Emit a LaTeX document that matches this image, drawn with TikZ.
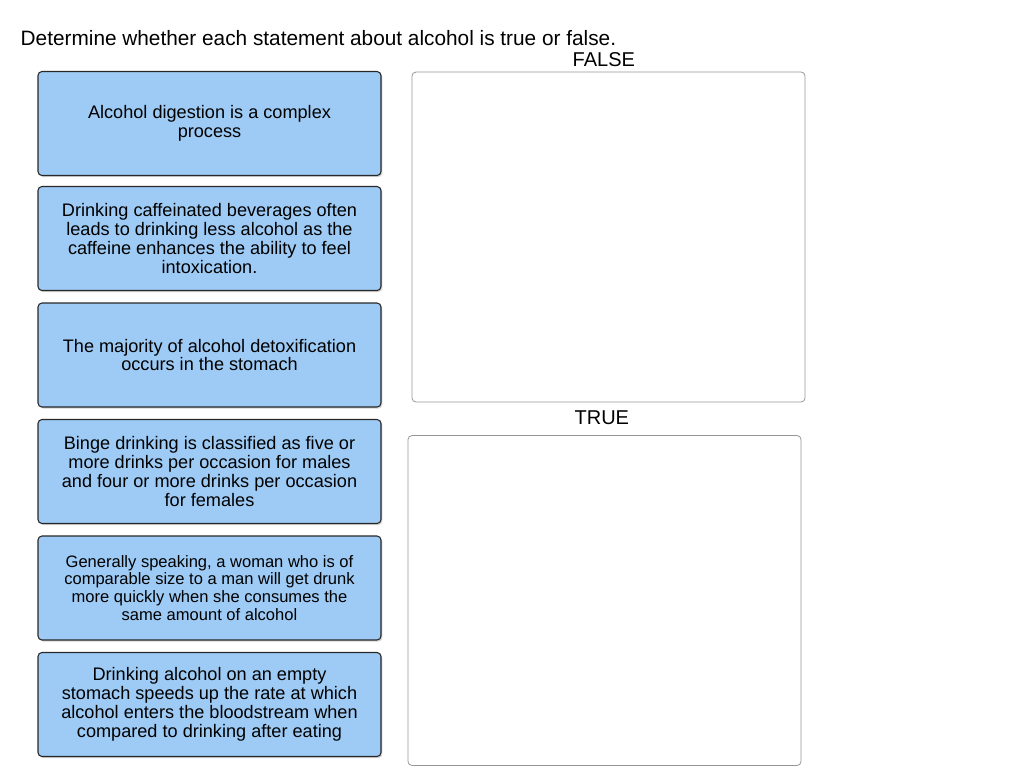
\documentclass[tikz,border=0pt]{standalone}
\usepackage{fontspec}
\setmainfont{Liberation Sans}
\usetikzlibrary{positioning,shadows}
\definecolor{cardblue}{RGB}{157,203,245}
\definecolor{cardline}{RGB}{40,40,40}
\definecolor{zoneline}{RGB}{150,150,150}
\tikzset{card/.style={draw=cardline,fill=cardblue,rounded corners=3pt,line width=0.8pt,
    minimum width=257.25pt,minimum height=78pt,align=center,
    font=\fontsize{13.6}{14.2}\selectfont,inner sep=0pt,
    drop shadow={shadow xshift=1pt,shadow yshift=-1.2pt,opacity=0.35}},
  zone/.style={draw=zoneline,rounded corners=3pt,line width=0.6pt,
    minimum width=294.75pt,minimum height=247.5pt},
  zonelabel/.style={font=\fontsize{15}{17}\selectfont}}
\begin{document}
\begin{tikzpicture}[x=0.75pt,y=0.75pt,yscale=-1,xscale=1]
\useasboundingbox (0,0) rectangle (1024,779);

% Question
\node [anchor=west,font=\fontsize{15.6}{18}\selectfont] (question) at (16,38) {Determine whether each statement about alcohol is true or false.};

% Statement cards
\node [card] (card1) at (209.5,123.5) {Alcohol digestion is a complex\\process};
\node [card] (card2) at (209.5,238.5) {Drinking caffeinated beverages often\\leads to drinking less alcohol as the\\caffeine enhances the ability to feel\\intoxication.};
\node [card] (card3) at (209.5,355) {The majority of alcohol detoxification\\occurs in the stomach};
\node [card] (card4) at (209.5,471.5) {Binge drinking is classified as five or\\more drinks per occasion for males\\and four or more drinks per occasion\\for females};
\node [card,font=\fontsize{12.4}{13.4}\selectfont] (card5) at (209.5,588) {Generally speaking, a woman who is of\\comparable size to a man will get drunk\\more quickly when she consumes the\\same amount of alcohol};
\node [card] (card6) at (209.5,704.5) {Drinking alcohol on an empty\\stomach speeds up the rate at which\\alcohol enters the bloodstream when\\compared to drinking after eating};

% Drop zones
\node [zone] (falsezone) at (608.5,237) {};
\node [zonelabel,above=0pt of falsezone,xshift=-3.5pt] (falselabel) {FALSE};
\node [zone] (truezone) at (604.5,600.5) {};
\node [zonelabel,above=4pt of truezone,xshift=-2pt] (truelabel) {TRUE};

\end{tikzpicture}
\end{document}
